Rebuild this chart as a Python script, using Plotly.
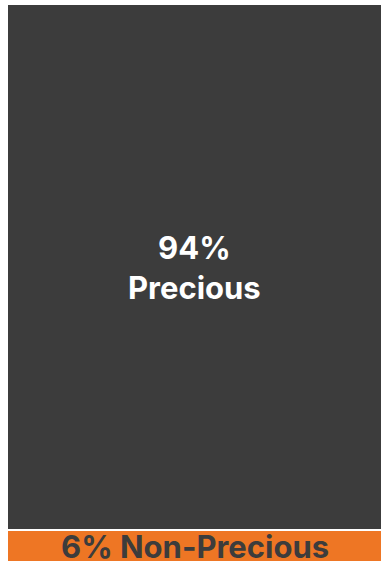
import plotly.graph_objects as go

# Composition split, in percent
categories = ["Non-Precious", "Precious"]
shares = [6, 94]
colors = ["#EE7624", "#3C3C3C"]
label_colors = ["#3C3C3C", "#FFFFFF"]

fig = go.Figure()
for name, val, col in zip(categories, shares, colors):
    fig.add_trace(go.Bar(
        x=[0], y=[val], name=name, width=1,
        marker=dict(color=col, line=dict(color="#FFFFFF", width=2)),
        hoverinfo="skip", showlegend=False,
    ))

# Labels centred on each stacked segment
base = 0
for name, val, lc in zip(categories, shares, label_colors):
    mid = base + val / 2
    if val >= 50:
        text = f"{val}%<br>{name}"
        y = mid
    else:
        text = f"{val}% {name}"
        y = base + val / 2
    fig.add_annotation(
        x=0, y=y, text=text, showarrow=False,
        font=dict(family="Inter", size=31, color=lc, weight=700),
        align="center",
    )
    base += val

fig.update_layout(
    barmode="stack",
    width=382, height=561,
    margin=dict(l=7, r=0, t=4, b=0),
    paper_bgcolor="#FFFFFF", plot_bgcolor="#FFFFFF",
    xaxis=dict(range=[-0.5, 0.5], visible=False, fixedrange=True),
    yaxis=dict(range=[0.46, 100], visible=False, fixedrange=True),
)

fig.write_html("out.html")
